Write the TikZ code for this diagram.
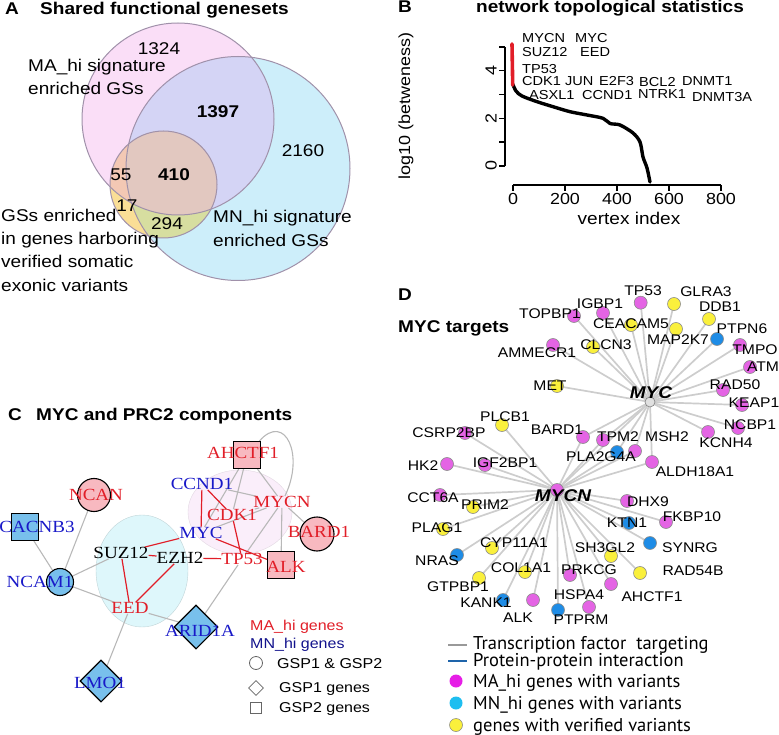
\documentclass[tikz,border=0pt]{standalone}
\usepackage{fontspec}
\setmainfont{Liberation Sans}[FakeStretch=1.12]
\newfontfamily\serifC{Liberation Serif}[FakeStretch=1.12]
\newfontfamily\legD{PT Sans}
\usetikzlibrary{shapes.geometric}
\definecolor{pinkA}{RGB}{250,222,247}
\definecolor{blueA}{RGB}{205,238,250}
\definecolor{lavA}{RGB}{212,212,245}
\definecolor{yelA}{RGB}{250,222,150}
\definecolor{salA}{RGB}{243,200,180}
\definecolor{oliA}{RGB}{215,222,160}
\definecolor{tanA}{RGB}{226,200,192}
\definecolor{venE}{RGB}{160,145,170}
\definecolor{redC}{RGB}{225,30,40}
\definecolor{bluC}{RGB}{25,25,200}
\definecolor{pinkC}{RGB}{248,185,192}
\definecolor{fillB}{RGB}{120,192,236}
\definecolor{cyanE}{RGB}{222,247,251}
\definecolor{pinkE}{RGB}{250,238,250}
\definecolor{magD}{RGB}{228,100,228}
\definecolor{bluD}{RGB}{30,140,230}
\definecolor{yelD}{RGB}{250,240,60}
\definecolor{edgeG}{RGB}{205,205,205}
\definecolor{ppiB}{RGB}{30,100,170}
\definecolor{magL}{RGB}{230,30,230}
\definecolor{cyaL}{RGB}{30,190,240}
\pgfdeclarelayer{back}
\pgfdeclarelayer{mid}
\pgfsetlayers{back,mid,main}
\newcommand\dnode[5]{\node[dot,fill=#2] (#1) at (#3) {};\node[dlab] (#1-l) at (#5) {#4};}
\begin{document}
\begin{tikzpicture}[x=1pt,y=-1pt,
  ttl/.style={anchor=base west,inner sep=0,font=\fontsize{17}{20}\selectfont\bfseries},
  vl/.style={anchor=base west,inner sep=0,font=\fontsize{17}{20}\selectfont},
  vn/.style={anchor=base,inner sep=0,font=\fontsize{17}{20}\selectfont},
  bl/.style={anchor=base west,inner sep=0,font=\fontsize{13}{15}\selectfont},
  tk/.style={inner sep=0,font=\fontsize{16}{18}\selectfont},
  cl/.style={inner sep=0,font=\serifC\fontsize{17}{20}\selectfont},
  cshape/.style={draw=black,line width=1.1pt},
  cedge/.style={draw=black!28,line width=1.1pt},
  redge/.style={draw=redC,line width=1.2pt},
  lg/.style={anchor=base west,inner sep=0,font=\fontsize{14.3}{16}\selectfont},
  dot/.style={circle,draw=black!45,line width=0.6pt,minimum size=13pt,inner sep=0},
  dlab/.style={inner sep=0,font=\fontsize{14}{16}\selectfont},
  edgeD/.style={draw=edgeG,line width=1.7pt},
  dleg/.style={anchor=base west,inner sep=0,font=\legD\fontsize{18.5}{20}\selectfont}]
\useasboundingbox (0,0) rectangle (779,735);
% ================= Panel A =================
\node[ttl] (labA) at (5,15) {A};
\node[ttl] (titA) at (40,15) {Shared functional genesets};
\fill[pinkA] (178,119) circle (96pt);
\fill[blueA] (238,168.5) circle (112pt);
\begin{scope}
  \clip (178,119) circle (96pt);
  \fill[lavA] (238,168.5) circle (112pt);
\end{scope}
\fill[yelA] (163.5,184.5) circle (53.5pt);
\begin{scope}
  \clip (163.5,184.5) circle (53.5pt);
  \fill[salA] (178,119) circle (96pt);
  \fill[oliA] (238,168.5) circle (112pt);
  \clip (178,119) circle (96pt);
  \fill[tanA] (238,168.5) circle (112pt);
\end{scope}
\draw[venE,line width=1pt] (178,119) circle (96pt);
\draw[venE,line width=1pt] (238,168.5) circle (112pt);
\draw[venE,line width=1pt] (163.5,184.5) circle (53.5pt);
\node[vl] (ma1) at (28,72) {MA\_hi signature};
\node[vl] (ma2) at (28,95) {enriched GSs};
\node[vl] (mn1) at (213,223) {MN\_hi signature};
\node[vl] (mn2) at (213,247) {enriched GSs};
\node[vl] (gs1) at (1,222) {GSs enriched};
\node[vl] (gs2) at (1,245) {in genes harboring};
\node[vl] (gs3) at (1,268) {verified somatic};
\node[vl] (gs4) at (1,291) {exonic variants};
\node[vn] (n1324) at (159,55) {1324};
\node[vn,font=\fontsize{17}{20}\selectfont\bfseries] (n1397) at (218,118) {1397};
\node[vn] (n2160) at (303,157) {2160};
\node[vn] (n55) at (121,181) {55};
\node[vn,font=\fontsize{17}{20}\selectfont\bfseries] (n410) at (174,181) {410};
\node[vn] (n17) at (127,212) {17};
\node[vn] (n294) at (167,230) {294};
% ================= Panel B =================
\node[ttl] (labB) at (398,13) {B};
\node[ttl] (titB) at (476,13) {network topological statistics};
\draw[line width=1.4pt] (505,47) -- (505,166);
\foreach \v in {0,...,5} \draw[line width=1.4pt] (505,166-23.8*\v) -- (499,166-23.8*\v);
\node[tk,rotate=90] (ty0) at (491,166) {0};
\node[tk,rotate=90] (ty2) at (491,118.4) {2};
\node[tk,rotate=90] (ty4) at (491,70.8) {4};
\node[tk,rotate=90,font=\fontsize{16}{18}\selectfont] (ylab) at (406,106) {log10 (betweness)};
\draw[line width=1.4pt] (513,185) -- (721,185);
\foreach \v/\t in {0/0,1/200,2/400,3/600,4/800} {
  \draw[line width=1.4pt] (513+52*\v,185) -- (513+52*\v,191);
  \node[tk,anchor=base] (tx\t) at (513+52*\v,205) {\t};}
\node[tk,anchor=base,font=\fontsize{17}{20}\selectfont] (xlab) at (629,225) {vertex index};
\draw[line width=3.4pt,line cap=round,line join=round] plot[smooth,tension=0.5] coordinates {(512.7,84) (516,91) (522,96) (537,101.7) (553,106.7) (570,111.7) (587,115) (603,118.3) (610,123.5) (620,125) (633,133) (640,142) (643,157) (647,168) (650,182)};
\draw[redC,line width=3.6pt,line cap=round] (512,44) -- (512.7,85);
\node[bl] (bMYCN) at (522,43) {MYCN};
\node[bl] (bMYC) at (575,43) {MYC};
\node[bl] (bSUZ) at (522,57) {SUZ12};
\node[bl] (bEED) at (580,57) {EED};
\node[bl] (bTP) at (522,74) {TP53};
\node[bl] (bCDK) at (522,85.5) {CDK1};
\node[bl] (bJUN) at (565,85.5) {JUN};
\node[bl] (bE2F) at (599,85.5) {E2F3};
\node[bl] (bBCL) at (639,86.5) {BCL2};
\node[bl] (bDN1) at (682,85.5) {DNMT1};
\node[bl] (bASX) at (529,99.5) {ASXL1};
\node[bl] (bCCN) at (582,99.5) {CCND1};
\node[bl] (bNTR) at (638,98.5) {NTRK1};
\node[bl] (bDN3) at (692,101.5) {DNMT3A};
% ================= Panel C =================
\node[ttl] (labC) at (8,420) {C};
\node[ttl] (titC) at (36,420) {MYC and PRC2 components};
\begin{pgfonlayer}{back}
\filldraw[fill=cyanE,draw=cyanE!85!black!95] (142,571) ellipse (46pt and 56pt);
\filldraw[fill=pinkE,draw=pinkE!90!black!95] (240,512) ellipse (52pt and 42pt);
\end{pgfonlayer}
\node[cshape,circle,fill=pinkC,minimum size=33pt,inner sep=0] (ncanS) at (94,495) {};
\node[cshape,rectangle,fill=fillB,minimum size=27pt,inner sep=0] (cacS) at (25,527) {};
\node[cshape,circle,fill=fillB,minimum size=27pt,inner sep=0] (ncamS) at (60,582) {};
\node[cshape,rectangle,fill=pinkC,minimum size=27pt,inner sep=0] (alkS) at (281,565) {};
\node[cshape,circle,fill=pinkC,minimum size=34pt,inner sep=0] (bardS) at (317,534) {};
\node[cshape,rectangle,fill=pinkC,minimum size=27pt,inner sep=0] (ahS) at (247,455) {};
\node[cshape,diamond,fill=fillB,minimum size=44pt,inner sep=0] (aridS) at (196,627) {};
\node[cshape,diamond,fill=fillB,minimum size=42pt,inner sep=0] (lmoS) at (101,681) {};
\node[cl,text=redC] (ncan) at (96,495) {NCAN};
\node[cl,text=bluC] (cac) at (37,527) {CACNB3};
\node[cl,text=bluC] (ncam) at (40,582) {NCAM1};
\node[cl] (suz) at (121,553) {SUZ12};
\node[cl] (ezh) at (180,558) {EZH2};
\node[cl,text=redC] (eed) at (130,608) {EED};
\node[cl,text=bluC] (myc) at (201,533) {MYC};
\node[cl,text=bluC] (ccnd) at (202,484) {CCND1};
\node[cl,text=redC] (cdk) at (232,515) {CDK1};
\node[cl,text=redC] (mycn) at (282,502) {MYCN};
\node[cl,text=redC] (tp) at (242,559) {TP53};
\node[cl,text=redC] (alk) at (286,567) {ALK};
\node[cl,text=redC] (bard) at (319,532) {BARD1};
\node[cl,text=redC] (ah) at (243,453) {AHCTF1};
\node[cl,text=bluC] (arid) at (200,631) {ARID1A};
\node[cl,text=bluC] (lmo) at (100,683) {LMO1};
\begin{pgfonlayer}{mid}
\draw[cedge] (ncanS) -- (ncamS);
\draw[cedge] (cacS) -- (ncamS);
\draw[cedge] (ncamS) -- (suz);
\draw[cedge] (ncamS) -- (eed);
\draw[cedge] (eed) -- (aridS);
\draw[cedge] (eed) -- (lmoS);
\draw[cedge] (tp) -- (aridS);
\draw[cedge] (ahS) -- (cdk);
\draw[cedge] (ahS) -- (myc);
\draw[cedge] (ahS) .. controls (285,412) and (305,455) .. (mycn);
\draw[cedge] (ahS) -- (mycn);
\draw[cedge] (mycn) -- (tp);
\draw[cedge] (mycn) -- (alkS);
\draw[cedge] (mycn) -- (bardS);
\draw[cedge] (mycn) -- (myc);
\draw[cedge] (mycn) -- (ccnd);
\draw[cedge] (cdk) -- (mycn);
\draw[redge] (ccnd) -- (myc);
\draw[redge] (ccnd) -- (cdk);
\draw[redge] (myc) -- (suz);
\draw[redge] (suz) -- (ezh);
\draw[redge] (ezh) -- (tp);
\draw[redge] (ezh) -- (eed);
\draw[redge] (suz) -- (eed);
\draw[redge] (myc) -- (alkS);
\draw[redge] (cdk) -- (tp);
\end{pgfonlayer}
% legend C
\node[lg,text=redC] (lgMA) at (250,630) {MA\_hi genes};
\node[lg,text=bluC!70!black] (lgMN) at (250,648) {MN\_hi genes};
\node[circle,draw=black!60,line width=0.8pt,minimum size=13pt,inner sep=0] (symC) at (256,663) {};
\node[diamond,draw=black!60,line width=0.8pt,minimum size=15pt,inner sep=0] (symD) at (256,688) {};
\node[rectangle,draw=black!60,line width=0.8pt,minimum size=11pt,inner sep=0] (symS) at (256,708) {};
\node[lg] (lgG12) at (277,668) {GSP1 \& GSP2};
\node[lg] (lgG1) at (279,692) {GSP1 genes};
\node[lg] (lgG2) at (279,712) {GSP2 genes};
% ================= Panel D =================
\node[ttl] (labD) at (398,301) {D};
\node[ttl] (titD) at (398,332) {MYC targets};
\dnode{tp53}{magD}{640.7,302.7}{TP53}{643,291}
\dnode{glra3}{yelD}{674,304}{GLRA3}{706,292}
\dnode{topbp1}{magD}{574,316}{TOPBP1}{550,314}
\dnode{igbp1}{magD}{603,313}{IGBP1}{600,304}
\dnode{ceacam5}{yelD}{631,325}{CEACAM5}{631,324}
\dnode{ddb1}{yelD}{709,319}{DDB1}{720,307}
\dnode{map2k7}{yelD}{676,329}{MAP2K7}{678,340}
\dnode{ptpn6}{bluD}{717,339}{PTPN6}{742,329}
\dnode{tmpo}{magD}{740,345}{TMPO}{755,350}
\dnode{atm}{magD}{750,367}{ATM}{763,367}
\dnode{rad50}{magD}{723,390}{RAD50}{735,385}
\dnode{keap1}{magD}{742,405}{KEAP1}{754,403}
\dnode{ncbp1}{magD}{738,428}{NCBP1}{750,425}
\dnode{kcnh4}{magD}{708,432}{KCNH4}{726,443}
\dnode{aldh}{magD}{652,462}{ALDH18A1}{695,472}
\dnode{msh2}{magD}{635,451}{MSH2}{667,437}
\dnode{tpm2}{magD}{603,440}{TPM2}{618,437}
\dnode{pla2g4a}{bluD}{617,452}{PLA2G4A}{601,457}
\dnode{clcn3}{yelD}{593,347}{CLCN3}{606,345}
\dnode{ammecr1}{magD}{553,345}{AMMECR1}{537,353}
\dnode{met}{yelD}{557,386}{MET}{550,386}
\dnode{plcb1}{yelD}{502,425}{PLCB1}{505,417}
\dnode{csrp2bp}{magD}{465,433}{CSRP2BP}{449,433}
\dnode{bard1}{magD}{583,437}{BARD1}{557,430}
\dnode{hk2}{magD}{447,464}{HK2}{423,466}
\dnode{igf2bp1}{magD}{485,465}{IGF2BP1}{505,463}
\dnode{cct6a}{magD}{440,495}{CCT6A}{433,498}
\dnode{prim2}{yelD}{473,507}{PRIM2}{485,505}
\dnode{plag1}{yelD}{443,529}{PLAG1}{437,528}
\dnode{cyp11a1}{yelD}{492,548}{CYP11A1}{514,543}
\dnode{nras}{bluD}{457,555}{NRAS}{437,561}
\dnode{col1a1}{yelD}{525,572}{COL1A1}{521,568}
\dnode{gtpbp1}{yelD}{479,578}{GTPBP1}{458,587}
\dnode{kank1}{bluD}{503,600}{KANK1}{486,603}
\dnode{alkd}{magD}{533,600}{ALK}{518,618}
\dnode{ptprm}{bluD}{558,610}{PTPRM}{581,620}
\dnode{hspa4}{magD}{589,607}{HSPA4}{579,595}
\dnode{prkcg}{magD}{570,575}{PRKCG}{589,570}
\dnode{ahctf1}{magD}{611,584}{AHCTF1}{652,597}
\dnode{sh3gl2}{yelD}{611,556}{SH3GL2}{605,548}
\dnode{rad54b}{yelD}{640,573}{RAD54B}{693,571}
\dnode{synrg}{bluD}{650,543}{SYNRG}{690,548}
\dnode{fkbp10}{magD}{666,522}{FKBP10}{692,517}
\dnode{ktn1}{bluD}{629,523}{KTN1}{627,523}
\dnode{dhx9}{magD}{627,501}{DHX9}{648,502}
\node[circle,draw=black!50,fill=black!12,line width=0.6pt,minimum size=10pt,inner sep=0] (mycH) at (650,402) {};
\node[dot,fill=magD] (mycnH) at (557,490) {};
\node[inner sep=0,font=\fontsize{17}{20}\selectfont\bfseries\itshape] (mycHl) at (651,393) {MYC};
\node[inner sep=0,font=\fontsize{17}{20}\selectfont\bfseries\itshape] (mycnHl) at (563,496) {MYCN};
\begin{pgfonlayer}{mid}
\foreach \t in {tp53,glra3,topbp1,igbp1,ceacam5,ddb1,map2k7,ptpn6,tmpo,atm,rad50,keap1,ncbp1,kcnh4,aldh,msh2,tpm2,pla2g4a,clcn3,ammecr1,met,bard1,mycnH}
  \draw[edgeD] (mycH.center) -- (\t.center);
\foreach \t in {plcb1,csrp2bp,hk2,igf2bp1,bard1,tpm2,pla2g4a,msh2,aldh,cct6a,prim2,plag1,cyp11a1,nras,col1a1,gtpbp1,kank1,alkd,ptprm,hspa4,prkcg,ahctf1,sh3gl2,rad54b,synrg,fkbp10,ktn1,dhx9}
  \draw[edgeD] (mycnH.center) -- (\t.center);
\end{pgfonlayer}
% legend D
\coordinate (lgA1) at (448,645); \coordinate (lgA2) at (467,645);
\coordinate (lgB1) at (448,661); \coordinate (lgB2) at (467,661);
\draw[black!40,line width=1.2pt] (lgA1) -- (lgA2);
\draw[ppiB,line width=2pt] (lgB1) -- (lgB2);
\node[dleg] (dl1) at (473,649) {Transcription factor\ \ targeting};
\node[dleg] (dl2) at (473,666) {Protein-protein interaction};
\node[circle,fill=magL,minimum size=13pt,inner sep=0] (dm) at (456,681) {};
\node[dleg] (dl3) at (473,687) {MA\_hi genes with variants};
\node[circle,fill=cyaL,minimum size=13pt,inner sep=0] (dc) at (456,703) {};
\node[dleg] (dl4) at (473,709) {MN\_hi genes with variants};
\node[circle,fill=yelD,draw=black!50,line width=0.5pt,minimum size=13pt,inner sep=0] (dy) at (456,725) {};
\node[dleg] (dl5) at (473,731) {genes with verified variants};
\end{tikzpicture}
\end{document}
